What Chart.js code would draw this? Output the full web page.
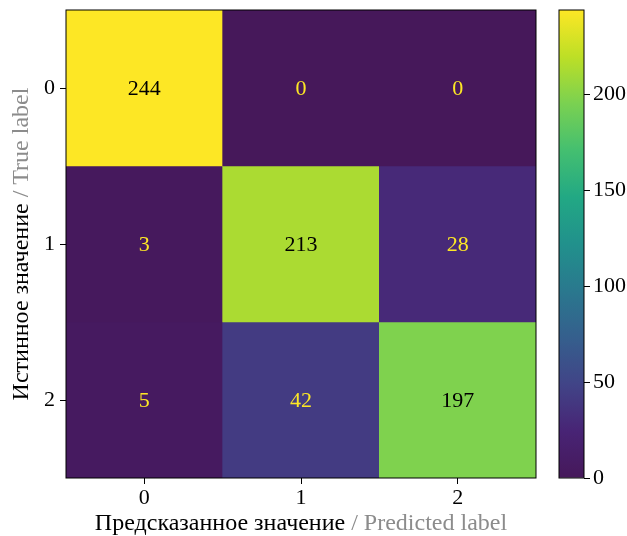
<!DOCTYPE html>
<html>
<head>
<meta charset="utf-8">
<script src="https://cdn.jsdelivr.net/npm/chart.js@4.4.1/dist/chart.umd.min.js"></script>
<style>
  html, body { margin: 0; padding: 0; background: #fff; }
  #wrap { position: relative; width: 627px; height: 536px; }
  #matrixBox { position: absolute; left: 0; top: 0; width: 545px; height: 536px; }
  #barBox { position: absolute; left: 545px; top: 0; width: 82px; height: 536px; }
</style>
</head>
<body>
<div id="wrap">
  <div id="matrixBox"><canvas id="matrixChart"></canvas></div>
  <div id="barBox"><canvas id="colorbarChart"></canvas></div>
</div>
<script>
// confusion matrix values (rows = true label, columns = predicted label)
const classLabels = ['0', '1', '2'];
const row0 = [244, 0, 0];
const row1 = [3, 213, 28];
const row2 = [5, 42, 197];
const colorbarTicks = [0, 50, 100, 150, 200];
const vmin = 0;
const vmax = 244;

const xTitleMain = 'Предсказанное значение';
const xTitleSub = ' / Predicted label';
const yTitleMain = 'Истинное значение';
const yTitleSub = ' / True label';

const rows = [row0, row1, row2];
const FONT = "'Liberation Serif', 'Times New Roman', serif";

// viridis colormap, 11 stops (bottom stop a touch lighter, as in the picture)
const viridis = ['#46185a', '#482475', '#414487', '#355f8d', '#2a788e', '#21918c',
  '#22a884', '#44bf70', '#7ad151', '#bddf26', '#fde725'];

function hexToRgb(h) {
  return [parseInt(h.slice(1, 3), 16), parseInt(h.slice(3, 5), 16), parseInt(h.slice(5, 7), 16)];
}

function cmap(v) {
  let t = (v - vmin) / (vmax - vmin);
  t = Math.max(0, Math.min(1, t));
  const pos = t * (viridis.length - 1);
  const i = Math.min(Math.floor(pos), viridis.length - 2);
  const f = pos - i;
  const a = hexToRgb(viridis[i]);
  const b = hexToRgb(viridis[i + 1]);
  const c = a.map((x, k) => Math.round(x + (b[k] - x) * f));
  return `rgb(${c[0]},${c[1]},${c[2]})`;
}

const threshold = (vmin + vmax) / 2;

function noPadding(scale) {
  scale.paddingTop = 0;
  scale.paddingBottom = 0;
  scale.paddingLeft = 0;
  scale.paddingRight = 0;
}

const cellLabels = {
  id: 'cellLabels',
  afterDatasetsDraw(chart) {
    const ctx = chart.ctx;
    ctx.save();
    ctx.font = `22px ${FONT}`;
    ctx.textAlign = 'center';
    ctx.textBaseline = 'middle';
    chart.data.datasets.forEach((ds, r) => {
      const meta = chart.getDatasetMeta(r);
      meta.data.forEach((el, c) => {
        const v = rows[r][c];
        const p = el.getCenterPoint();
        ctx.fillStyle = v < threshold ? '#fde725' : '#000000';
        ctx.fillText(String(v), p.x, p.y + 1);
      });
    });
    const a = chart.chartArea;
    ctx.strokeStyle = '#000';
    ctx.lineWidth = 1;
    ctx.strokeRect(a.left, a.top, a.right - a.left, a.bottom - a.top);
    ctx.restore();
  }
};

const axisTitles = {
  id: 'axisTitles',
  afterDraw(chart) {
    const ctx = chart.ctx;
    const a = chart.chartArea;
    ctx.save();
    ctx.font = `24px ${FONT}`;
    ctx.textBaseline = 'middle';
    ctx.textAlign = 'left';

    // x title
    let w1 = ctx.measureText(xTitleMain).width;
    let w2 = ctx.measureText(xTitleSub).width;
    let x0 = (a.left + a.right) / 2 - (w1 + w2) / 2;
    ctx.fillStyle = '#000';
    ctx.fillText(xTitleMain, x0, 524);
    ctx.fillStyle = '#8c8c8c';
    ctx.fillText(xTitleSub, x0 + w1, 524);

    // y title
    w1 = ctx.measureText(yTitleMain).width;
    w2 = ctx.measureText(yTitleSub).width;
    ctx.translate(22, (a.top + a.bottom) / 2);
    ctx.rotate(-Math.PI / 2);
    x0 = -(w1 + w2) / 2;
    ctx.fillStyle = '#000';
    ctx.fillText(yTitleMain, x0, 0);
    ctx.fillStyle = '#8c8c8c';
    ctx.fillText(yTitleSub, x0 + w1, 0);
    ctx.restore();
  }
};

const matrixChart = new Chart(document.getElementById('matrixChart'), {
  type: 'bar',
  data: {
    labels: classLabels,
    datasets: rows.map((row, r) => ({
      data: row.map(() => [r - 0.5, r + 0.5]),
      backgroundColor: row.map(v => cmap(v)),
      borderWidth: 0,
      grouped: false,
      barPercentage: 1,
      categoryPercentage: 1
    }))
  },
  options: {
    responsive: true,
    maintainAspectRatio: false,
    animation: false,
    layout: { padding: { top: 10, right: 9, left: 0, bottom: 0 } },
    plugins: {
      legend: { display: false },
      tooltip: { enabled: false }
    },
    scales: {
      x: {
        grid: { offset: false, drawOnChartArea: false, drawTicks: true, tickLength: 6, color: '#000' },
        border: { display: false },
        ticks: { color: '#000', font: { family: FONT, size: 22 }, padding: 1 },
        afterFit(scale) { scale.height = 58; noPadding(scale); }
      },
      y: {
        min: -0.5,
        max: 2.5,
        reverse: true,
        afterBuildTicks(scale) { scale.ticks = classLabels.map((_, i) => ({ value: i })); },
        grid: { drawOnChartArea: false, drawTicks: true, tickLength: 6, color: '#000' },
        border: { display: false },
        ticks: { color: '#000', font: { family: FONT, size: 22 }, padding: 5, callback: v => classLabels[v] },
        afterFit(scale) { scale.width = 66; noPadding(scale); }
      }
    }
  },
  plugins: [cellLabels, axisTitles]
});

const colorbarOutline = {
  id: 'colorbarOutline',
  afterDatasetsDraw(chart) {
    const ctx = chart.ctx;
    const a = chart.chartArea;
    ctx.save();
    ctx.strokeStyle = '#000';
    ctx.lineWidth = 1;
    ctx.strokeRect(a.left, a.top, a.right - a.left, a.bottom - a.top);
    ctx.restore();
  }
};

const colorbarChart = new Chart(document.getElementById('colorbarChart'), {
  type: 'bar',
  data: {
    labels: [''],
    datasets: [{
      data: [[vmin, vmax]],
      backgroundColor(context) {
        const area = context.chart.chartArea;
        if (!area) return '#888';
        const g = context.chart.ctx.createLinearGradient(0, area.bottom, 0, area.top);
        viridis.forEach((c, i) => g.addColorStop(i / (viridis.length - 1), c));
        return g;
      },
      borderWidth: 0,
      barPercentage: 1,
      categoryPercentage: 1
    }]
  },
  options: {
    responsive: true,
    maintainAspectRatio: false,
    animation: false,
    layout: { padding: { top: 10, right: 0, left: 14, bottom: 58 } },
    plugins: {
      legend: { display: false },
      tooltip: { enabled: false }
    },
    scales: {
      x: { display: false },
      y: {
        position: 'right',
        min: vmin,
        max: vmax,
        afterBuildTicks(scale) { scale.ticks = colorbarTicks.map(v => ({ value: v })); },
        grid: { drawOnChartArea: false, drawTicks: true, tickLength: 6, color: '#000' },
        border: { display: false },
        ticks: { color: '#000', font: { family: FONT, size: 22 }, padding: 3 },
        afterFit(scale) { scale.width = 43; noPadding(scale); }
      }
    }
  },
  plugins: [colorbarOutline]
});
</script>
</body>
</html>
